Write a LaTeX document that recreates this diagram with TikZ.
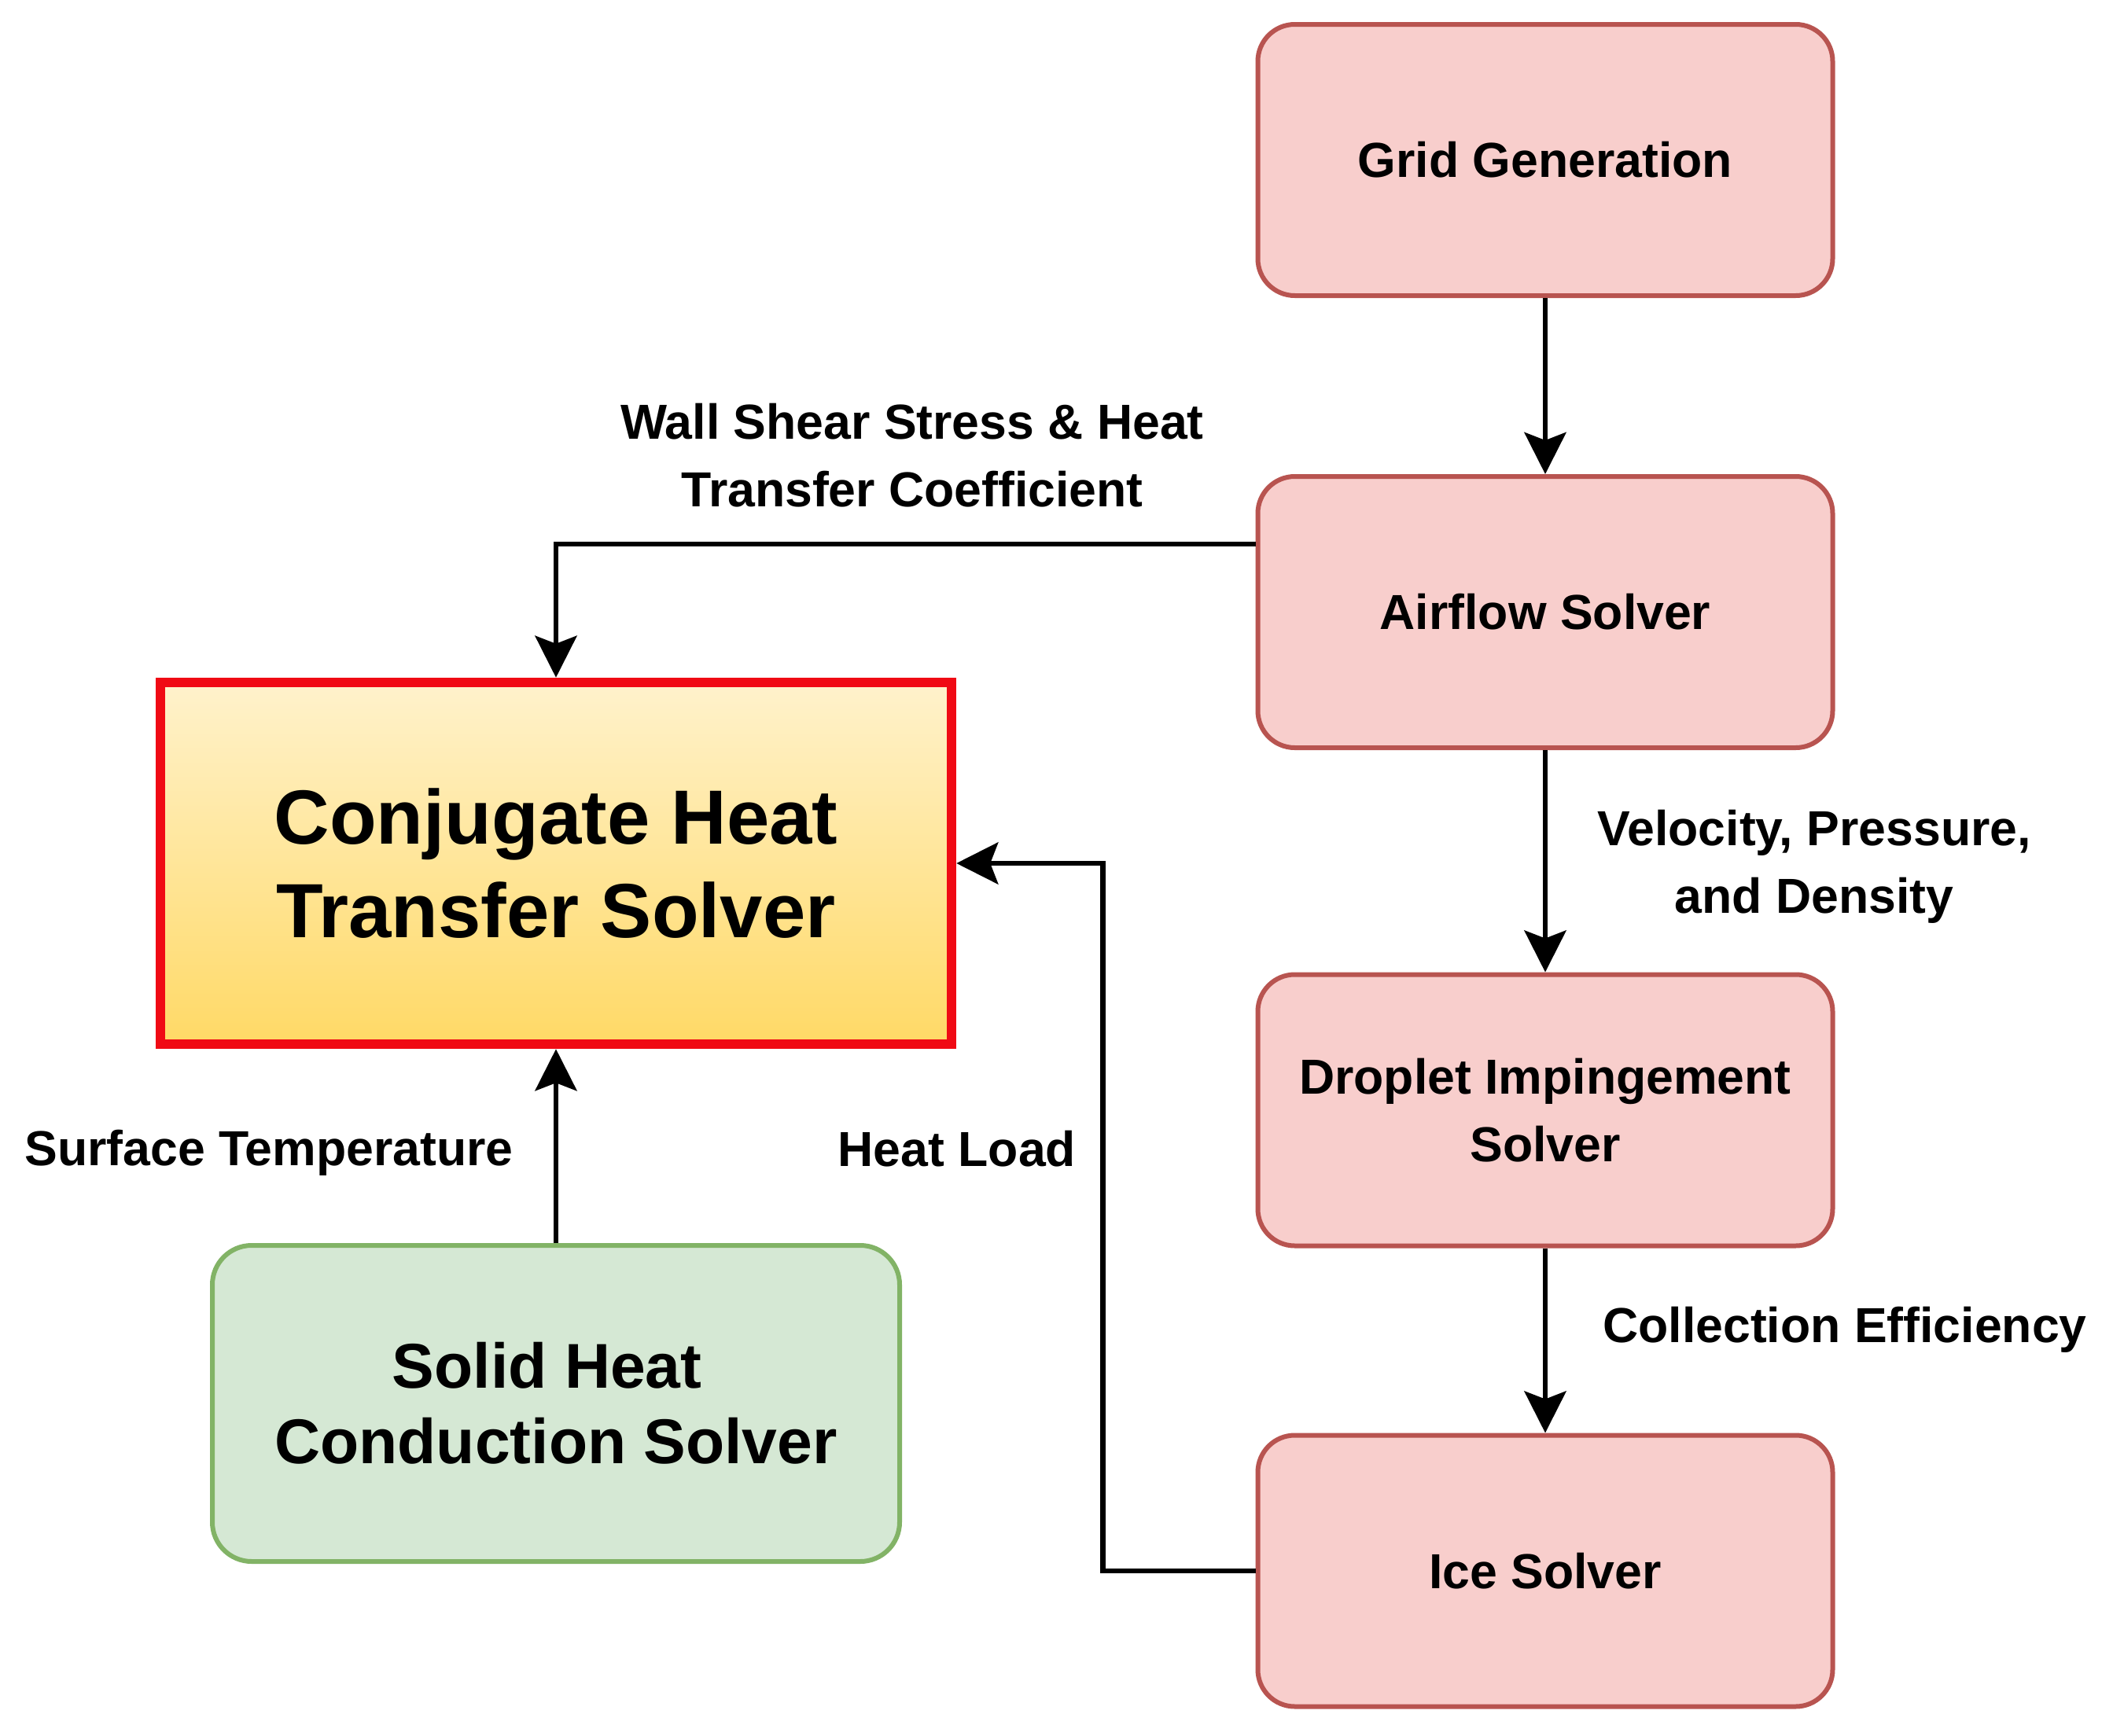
\documentclass[tikz,border=0pt]{standalone}
\usepackage{fontspec}
\setmainfont{Liberation Sans}
\usetikzlibrary{arrows.meta}
\definecolor{pinkfill}{HTML}{F8CECC}
\definecolor{pinkline}{HTML}{B85450}
\definecolor{greenfill}{HTML}{D5E8D4}
\definecolor{greenline}{HTML}{82B366}
\definecolor{goldtop}{HTML}{FFF2CC}
\definecolor{goldbottom}{HTML}{FFD966}
\definecolor{chtred}{HTML}{F00A14}
\newcommand{\smalltext}{\fontsize{17.8}{24.4}\selectfont\bfseries}
\newcommand{\bigtext}{\fontsize{27.8}{34.1}\selectfont\bfseries}
\newcommand{\midtext}{\fontsize{22.9}{27.3}\selectfont\bfseries}
\tikzset{
  solver/.style={draw=pinkline, fill=pinkfill, line width=0.06cm, rounded corners=0.47cm,
    minimum width=7.31cm, minimum height=3.45cm, align=center, font=\smalltext},
  chtbox/.style={draw=chtred, top color=goldtop, bottom color=goldbottom, line width=0.125cm,
    minimum width=10.06cm, minimum height=4.6cm, align=center, font=\bigtext},
  solidbox/.style={draw=greenline, fill=greenfill, line width=0.06cm, rounded corners=0.5cm,
    minimum width=8.74cm, minimum height=4.02cm, align=center, font=\midtext},
  lbl/.style={font=\smalltext, align=center},
  flow/.style={line width=0.065cm, -{Stealth[length=0.53cm, width=0.53cm, inset=0.1cm]}}
}

\begin{document}
\begin{tikzpicture}
\useasboundingbox (0,0) rectangle (26.87,-22.08);
\node[solver] (grid) at (19.65,-2.035) {Grid Generation};
\node[solver] (airflow) at (19.65,-7.785) {Airflow Solver};
\node[solver] (droplet) at (19.65,-14.12) {Droplet Impingement\\Solver};
\node[solver] (ice) at (19.65,-19.98) {Ice Solver};
\node[chtbox] (cht) at (7.07,-10.98) {Conjugate Heat\\Transfer Solver};
\node[solidbox] (solid) at (7.07,-17.85) {Solid Heat\kern0.28em\\Conduction Solver};

\node[lbl] (wallshear) at (11.60,-5.79) {Wall Shear Stress \& Heat\\Transfer Coefficient};
\node[lbl] (velocity) at (23.07,-11.02) {Velocity, Pressure,\\and Density};
\node[lbl] (collection) at (23.46,-16.91) {Collection Efficiency};
\node[lbl] (heatload) at (12.17,-14.61) {Heat Load};
\node[lbl] (surftemp) at (3.42,-14.66) {Surface Temperature};

\draw[flow] (grid) -- (airflow);
\draw[flow] ([yshift=0.865cm]airflow.west) -| (cht.north);
\draw[flow] (airflow) -- (droplet);
\draw[flow] (droplet) -- (ice);
\draw[flow] (ice.west) -- ++(-1.94,0) |- (cht.east);
\draw[flow] (solid) -- (cht);
\end{tikzpicture}
\end{document}
